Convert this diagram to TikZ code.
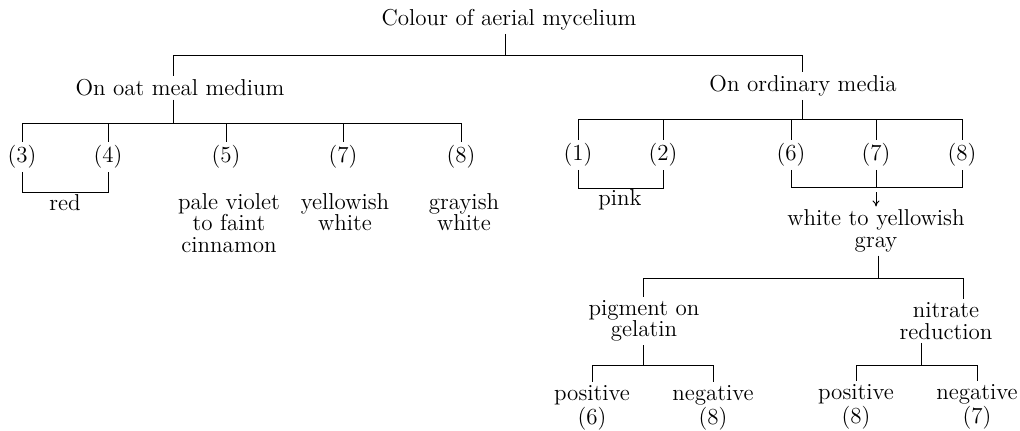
\documentclass[tikz,border=0pt]{standalone}
\usepackage{fontspec}
\usetikzlibrary{arrows.meta}
\begin{document}
\begin{tikzpicture}[x=0.5pt,y=-0.5pt,
  lbl/.style={inner sep=1.5pt, align=center, font={\fontsize{11.5}{10.8}\selectfont}},
  tree/.style={line width=0.5pt},
  down/.style={tree, -{To[length=3pt,width=3.5pt]}}]
\useasboundingbox (0,0) rectangle (1020,430);
\node[lbl] (title) at (509,20) {Colour of aerial mycelium};
\node[lbl] (oat) at (180,88) {On oat meal medium};
\node[lbl] (ord) at (803,86) {On ordinary media};
\node[lbl] (c3) at (22,157) {(3)};
\node[lbl] (c4) at (108,157) {(4)};
\node[lbl] (c5) at (226,157) {(5)};
\node[lbl] (c7a) at (343,157) {(7)};
\node[lbl] (c8a) at (461,157) {(8)};
\node[lbl] (red) at (65,203) {red};
\node[lbl] (violet) at (229,223) {pale violet\\to faint\\cinnamon};
\node[lbl] (ywhite) at (345,212) {yellowish\\white};
\node[lbl] (gwhite) at (464,212) {grayish\\white};
\node[lbl] (c1) at (578,155) {(1)};
\node[lbl] (c2) at (663,155) {(2)};
\node[lbl] (c6) at (791,155) {(6)};
\node[lbl] (c7b) at (876,155) {(7)};
\node[lbl] (c8b) at (962,155) {(8)};
\node[lbl] (pink) at (620,200) {pink};
\node[lbl] (wgray) at (876,231) {white to yellowish\\gray};
\node[lbl] (gelatin) at (644,321) {pigment on\\gelatin};
\node[lbl] (nitrate) at (946,321) {nitrate\\reduction};
\node[lbl] (pos6) at (592,408) {positive\\(6)};
\node[lbl] (neg8) at (713,408) {negative\\(8)};
\node[lbl] (pos8) at (856,407) {positive\\(8)};
\node[lbl] (neg7) at (977,407) {negative\\(7)};
\coordinate (b0) at (505,55);
\coordinate (b1) at (173,123);
\coordinate (b2) at (802,119);
\coordinate (b3) at (0,192);
\coordinate (b4) at (0,188);
\coordinate (b5) at (876,187);
\coordinate (b6) at (878,278);
\coordinate (r6) at (963,278);
\coordinate (b7) at (643,365);
\coordinate (b8) at (921,365);
\draw[tree] (b0 |- title.south) -- (b0);
\draw[tree] (b1 |- b0) -- (b2 |- b0);
\draw[tree] (b1 |- b0) -- (b1 |- oat.north);
\draw[tree] (b2 |- b0) -- (b2 |- ord.north);
\draw[tree] (b1 |- oat.south) -- (b1);
\draw[tree] (c3.north |- b1) -- (c8a.north |- b1);
\foreach \c in {c3,c4,c5,c7a,c8a} \draw[tree] (\c.north |- b1) -- (\c.north);
\draw[tree] (c3.south) -- (c3.south |- b3) -- (c4.south |- b3) -- (c4.south);
\draw[tree] (b2 |- ord.south) -- (b2);
\draw[tree] (c1.north |- b2) -- (c8b.north |- b2);
\foreach \c in {c1,c2,c6,c7b,c8b} \draw[tree] (\c.north |- b2) -- (\c.north);
\draw[tree] (c1.south) -- (c1.south |- b4) -- (c2.south |- b4) -- (c2.south);
\draw[tree] (c6.south) -- (c6.south |- b5) -- (c8b.south |- b5) -- (c8b.south);
\draw[tree] (c7b.south) -- (b5);
\draw[down, shorten <=2.5pt] (b5) -- (b5 |- wgray.north);
\draw[tree] (b6 |- wgray.south) -- (b6);
\draw[tree] (b7 |- b6) -- (r6);
\draw[tree] (b7 |- b6) -- (b7 |- gelatin.north);
\draw[tree] (r6) -- (r6 |- nitrate.north);
\draw[tree] (b7 |- gelatin.south) -- (b7);
\draw[tree] (pos6.north |- b7) -- (neg8.north |- b7);
\draw[tree] (pos6.north |- b7) -- (pos6.north);
\draw[tree] (neg8.north |- b7) -- (neg8.north);
\draw[tree] (b8 |- nitrate.south) -- (b8);
\draw[tree] (pos8.north |- b8) -- (neg7.north |- b8);
\draw[tree] (pos8.north |- b8) -- (pos8.north);
\draw[tree] (neg7.north |- b8) -- (neg7.north);
\end{tikzpicture}
\end{document}
